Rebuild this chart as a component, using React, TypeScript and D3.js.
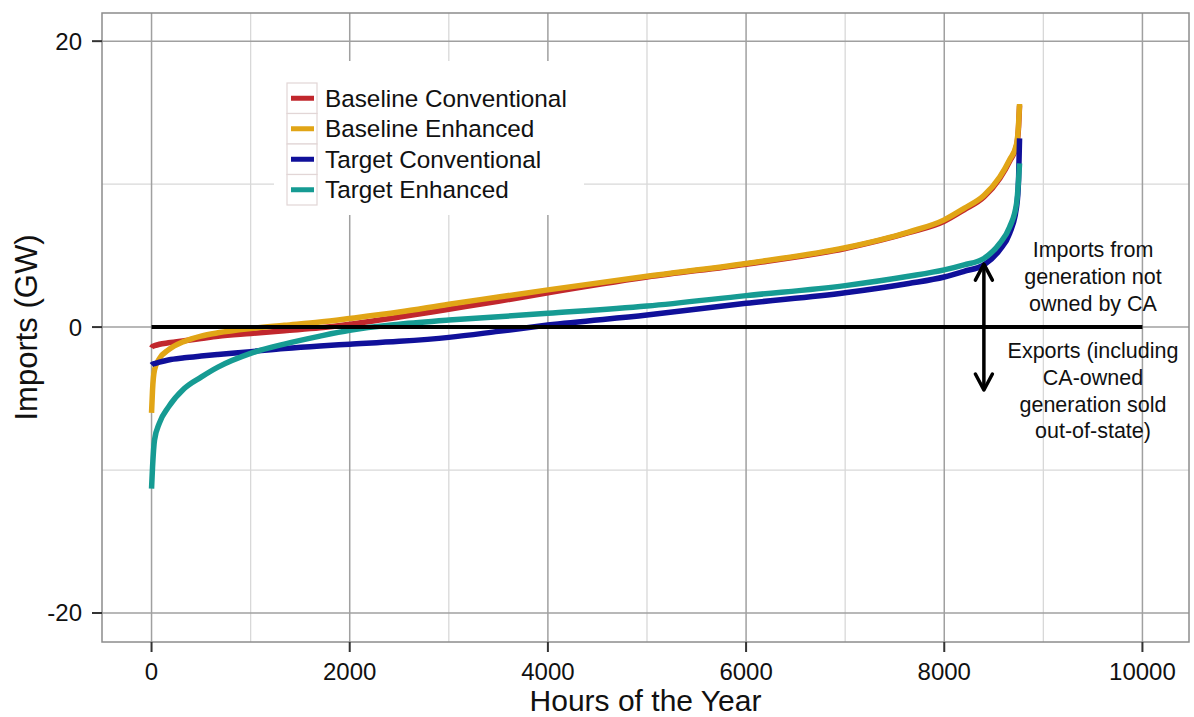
import React from "react";
import * as d3 from "d3";

const hours = [0, 10, 30, 80, 170, 330, 500, 670, 1000, 1340, 1700, 2000, 2500, 3000, 3500, 4000, 5000, 6000, 7000, 7640, 8000, 8200, 8400, 8560, 8660, 8730, 8750, 8760];

const baselineConventional = [-1.45, -1.35, -1.3, -1.2, -1.1, -0.95, -0.8, -0.65, -0.45, -0.25, -0.05, 0.2, 0.7, 1.25, 1.8, 2.4, 3.5, 4.4, 5.5, 6.6, 7.4, 8.2, 9.1, 10.4, 11.6, 12.7, 14.0, 15.5];
const baselineEnhanced = [-6.0, -4.4, -3.0, -2.2, -1.6, -1.0, -0.63, -0.4, -0.1, 0.12, 0.35, 0.6, 1.05, 1.6, 2.1, 2.6, 3.55, 4.45, 5.55, 6.65, 7.5, 8.3, 9.2, 10.5, 11.7, 12.8, 14.2, 15.6];
const targetConventional = [-2.66, -2.6, -2.55, -2.45, -2.3, -2.15, -2.03, -1.92, -1.72, -1.5, -1.32, -1.2, -1.0, -0.72, -0.3, 0.14, 0.84, 1.66, 2.4, 3.05, 3.5, 3.9, 4.35, 5.4, 6.55, 8.4, 10.3, 13.2];
const targetEnhanced = [-11.3, -9.8, -7.9, -6.7, -5.6, -4.3, -3.5, -2.8, -1.84, -1.19, -0.63, -0.22, 0.2, 0.49, 0.72, 0.96, 1.47, 2.2, 2.9, 3.55, 4.0, 4.35, 4.8, 5.85, 7.0, 8.65, 10.3, 11.45];

const seriesNames = ["Baseline Conventional", "Baseline Enhanced", "Target Conventional", "Target Enhanced"];
const seriesColors = ["#c1272d", "#e1a516", "#10109a", "#169b93"];
const seriesValues = [baselineConventional, baselineEnhanced, targetConventional, targetEnhanced];

const xMajorTicks = [0, 2000, 4000, 6000, 8000, 10000];
const xMinorTicks = [1000, 3000, 5000, 7000, 9000];
const yMajorTicks = [-20, 0, 20];
const yMinorTicks = [-10, 10];

const zeroLine = [0, 10000];
const arrowHour = 8400;
const arrowRange = [4.4, -4.4];

const importsText = ["Imports from", "generation not", "owned by CA"];
const exportsText = ["Exports (including", "CA-owned", "generation sold", "out-of-state)"];

const W = 1194;
const H = 717;
const panel = { left: 102, right: 1189, top: 13, bottom: 642 };
const FONT = "'Liberation Sans', Arial, Helvetica, sans-serif";

export default function App() {
  const x = d3.scaleLinear().domain([-500, 10470]).range([panel.left, panel.right]);
  const y = d3.scaleLinear().domain([-22.03, 21.97]).range([panel.bottom, panel.top]);

  const line = d3
    .line<number>()
    .x((_, i) => x(hours[i]))
    .y((d) => y(d))
    .curve(d3.curveMonotoneX);

  const ax = x(arrowHour);
  const ayTop = y(arrowRange[0]);
  const ayBot = y(arrowRange[1]);
  const headL = 16;
  const headW = 8.5;

  const legendX = 287;
  const legendY = 83;
  const keyH = 30.5;
  const keyW = 30;

  return (
    <svg width={W} height={H} style={{ position: "absolute", left: 0, top: 0, background: "#fff" }} fontFamily={FONT}>
      <rect x={0} y={0} width={W} height={H} fill="#fff" />
      {/* minor grid */}
      {xMinorTicks.map((t) => (
        <line key={"xm" + t} x1={x(t)} x2={x(t)} y1={panel.top} y2={panel.bottom} stroke="#d8d8d8" strokeWidth={1.3} />
      ))}
      {yMinorTicks.map((t) => (
        <line key={"ym" + t} x1={panel.left} x2={panel.right} y1={y(t)} y2={y(t)} stroke="#d8d8d8" strokeWidth={1.3} />
      ))}
      {/* major grid */}
      {xMajorTicks.map((t) => (
        <line key={"xg" + t} x1={x(t)} x2={x(t)} y1={panel.top} y2={panel.bottom} stroke="#a0a0a0" strokeWidth={1.5} />
      ))}
      {yMajorTicks.map((t) => (
        <line key={"yg" + t} x1={panel.left} x2={panel.right} y1={y(t)} y2={y(t)} stroke="#a0a0a0" strokeWidth={1.5} />
      ))}

      {/* legend background */}
      <rect x={274} y={61} width={310} height={154} fill="#fff" />

      {/* series lines */}
      {seriesValues.map((vals, i) => (
        <path key={seriesNames[i]} d={line(vals) || ""} fill="none" stroke={seriesColors[i]} strokeWidth={5.5} strokeLinejoin="round" strokeLinecap="butt" />
      ))}

      {/* zero line */}
      <line x1={x(zeroLine[0])} x2={x(zeroLine[1])} y1={y(0)} y2={y(0)} stroke="#000" strokeWidth={4} />

      {/* arrow */}
      <g stroke="#000" strokeWidth={3.5} fill="none" strokeLinecap="round" strokeLinejoin="round">
        <line x1={ax} x2={ax} y1={ayTop + 1} y2={ayBot - 1} />
        <polyline points={`${ax - headW},${ayTop + headL} ${ax},${ayTop} ${ax + headW},${ayTop + headL}`} />
        <polyline points={`${ax - headW},${ayBot - headL} ${ax},${ayBot} ${ax + headW},${ayBot - headL}`} />
      </g>

      {/* annotations */}
      <g fontSize={21.5} fill="#111" textAnchor="middle">
        {importsText.map((s, i) => (
          <text key={s} x={1093} y={257 + i * 26.8}>{s}</text>
        ))}
        {exportsText.map((s, i) => (
          <text key={s} x={1093} y={358 + i * 26.8}>{s}</text>
        ))}
      </g>

      {/* panel border */}
      <rect x={panel.left} y={panel.top} width={panel.right - panel.left} height={panel.bottom - panel.top} fill="none" stroke="#8c8c8c" strokeWidth={1.5} />

      {/* ticks */}
      {xMajorTicks.map((t) => (
        <g key={"xt" + t}>
          <line x1={x(t)} x2={x(t)} y1={panel.bottom} y2={panel.bottom + 10} stroke="#333" strokeWidth={2} />
          <text x={x(t)} y={680} fontSize={24} textAnchor="middle" fill="#111">{t}</text>
        </g>
      ))}
      {yMajorTicks.map((t) => (
        <g key={"yt" + t}>
          <line x1={panel.left - 10} x2={panel.left} y1={y(t)} y2={y(t)} stroke="#333" strokeWidth={2} />
          <text x={82} y={y(t) + 8.5} fontSize={24} textAnchor="end" fill="#111">{t}</text>
        </g>
      ))}

      {/* axis titles */}
      <text x={(panel.left + panel.right) / 2} y={711} fontSize={30} textAnchor="middle" fill="#111">Hours of the Year</text>
      <text transform={`translate(37, ${(panel.top + panel.bottom) / 2}) rotate(-90)`} fontSize={31} textAnchor="middle" fill="#111">Imports (GW)</text>

      {/* legend */}
      {seriesNames.map((name, i) => {
        const ky = legendY + i * keyH;
        return (
          <g key={"lg" + name}>
            <rect x={legendX} y={ky} width={keyW} height={keyH} fill="#fff" stroke="#e2d6d6" strokeWidth={1.2} />
            <line x1={legendX + 4} x2={legendX + keyW - 3} y1={ky + keyH / 2} y2={ky + keyH / 2} stroke={seriesColors[i]} strokeWidth={5} />
            <text x={325} y={ky + keyH / 2 + 8.5} fontSize={24.3} fill="#111">{name}</text>
          </g>
        );
      })}
    </svg>
  );
}
